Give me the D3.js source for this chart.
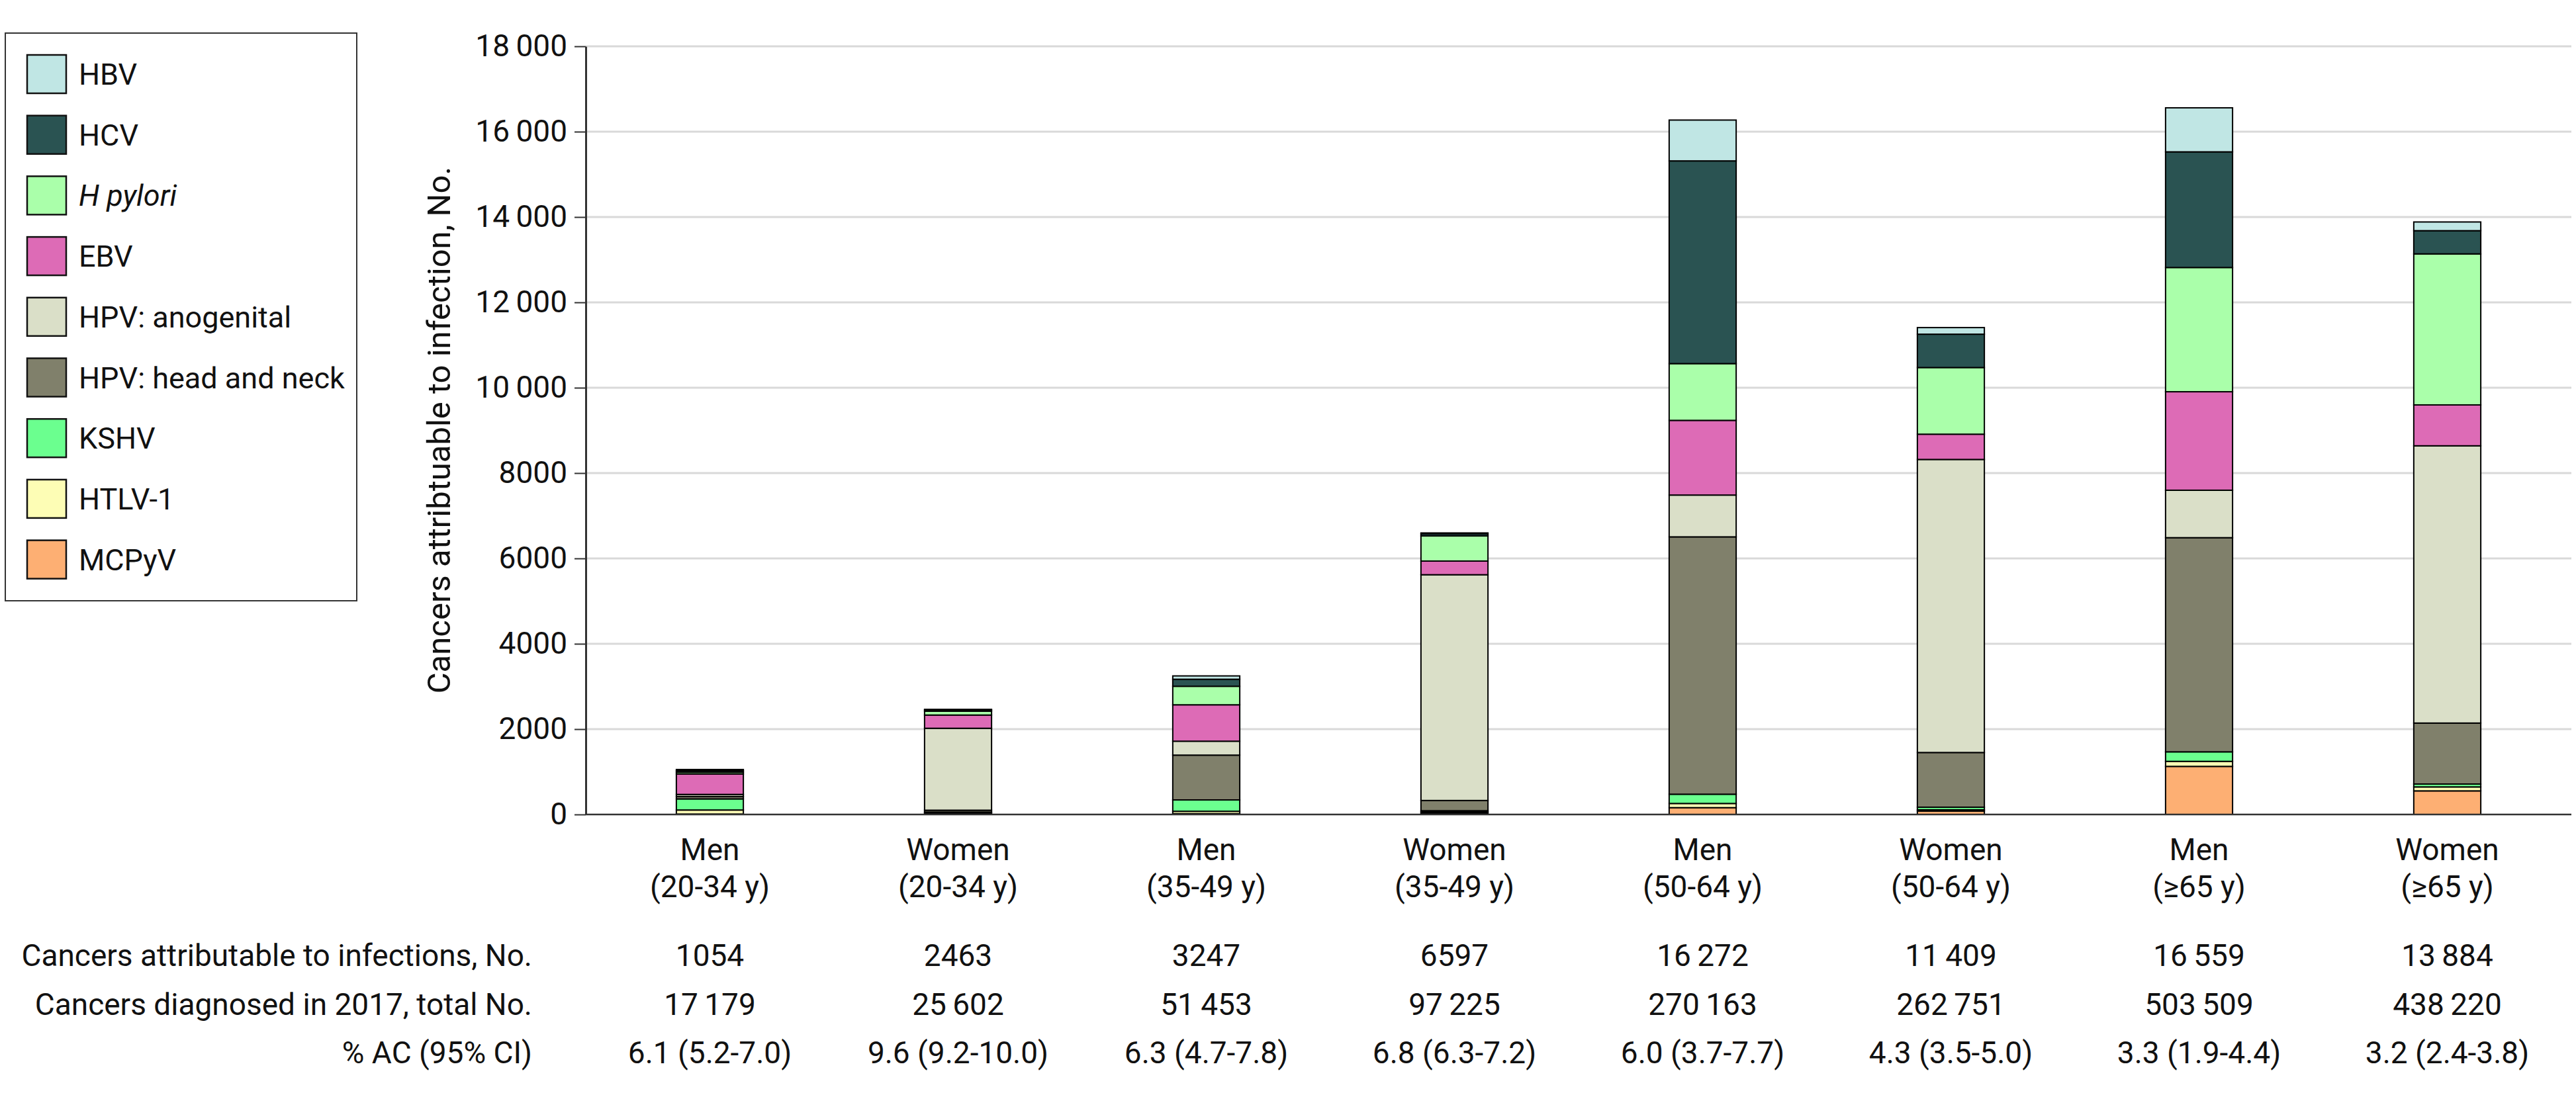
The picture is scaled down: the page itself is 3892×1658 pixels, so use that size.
<!DOCTYPE html>
<html><head><meta charset="utf-8">
<script src="https://cdn.jsdelivr.net/npm/d3@7/dist/d3.min.js"></script>
<style>
body{margin:0;background:#fff;}
text{font-family:Roboto, "Noto Sans", sans-serif; fill:#111;}
</style>
</head><body>
<svg id="chart" width="3892" height="1658"></svg>
<script>
// ---------- data ----------
const groupSex = ["Men","Women","Men","Women","Men","Women","Men","Women"];
const groupAge = ["(20-34 y)","(20-34 y)","(35-49 y)","(35-49 y)","(50-64 y)","(50-64 y)","(\u226565 y)","(\u226565 y)"];

const seriesNames = ["HBV","HCV","H pylori","EBV","HPV: anogenital","HPV: head and neck","KSHV","HTLV-1","MCPyV"];
const seriesColors = ["#c0e6e4","#2a5352","#aaffaa","#dd6bb6","#dadfc8","#80806b","#6bff8f","#fdfdb5","#fdaf73"];

const hbv            = [29, 13, 78, 20, 957, 155, 1032, 204];
const hcv            = [35, 30, 165, 49, 4750, 781, 2710, 544];
const hPylori        = [40, 90, 434, 590, 1330, 1562, 2911, 3539];
const ebv            = [480, 310, 853, 320, 1750, 592, 2308, 958];
const hpvAnogenital  = [50, 1920, 326, 5290, 980, 6867, 1112, 6497];
const hpvHeadNeck    = [55, 45, 1050, 240, 6030, 1282, 5018, 1429];
const kshv           = [260, 15, 266, 28, 217, 60, 223, 67];
const htlv1          = [95, 30, 55, 30, 98, 30, 118, 93];
const mcpyv          = [10, 10, 20, 30, 160, 80, 1127, 553];

const yTicks = [0,2000,4000,6000,8000,10000,12000,14000,16000,18000];

const attributable = [1054, 2463, 3247, 6597, 16272, 11409, 16559, 13884];
const diagnosed    = [17179, 25602, 51453, 97225, 270163, 262751, 503509, 438220];
const pctAC        = ["6.1 (5.2-7.0)","9.6 (9.2-10.0)","6.3 (4.7-7.8)","6.8 (6.3-7.2)","6.0 (3.7-7.7)","4.3 (3.5-5.0)","3.3 (1.9-4.4)","3.2 (2.4-3.8)"];
const rowLabels = ["Cancers attributable to infections, No.","Cancers diagnosed in 2017, total No.","% AC (95% CI)"];

// ---------- build ----------
const seriesValues = [hbv,hcv,hPylori,ebv,hpvAnogenital,hpvHeadNeck,kshv,htlv1,mcpyv];
const table = groupSex.map((s,i)=>{
  const row = {idx:i};
  seriesNames.forEach((n,k)=>row[n]=seriesValues[k][i]);
  return row;
});
const stackKeys = seriesNames.slice().reverse(); // bottom -> top
const stacked = d3.stack().keys(stackKeys)(table);
const color = d3.scaleOrdinal().domain(seriesNames).range(seriesColors);

const fmt = v => v >= 10000 ? String(v).replace(/\B(?=(\d{3})+(?!\d))/g, "\u2009") : String(v);

const svg = d3.select("#chart");
const x = d3.scaleBand().domain(d3.range(8)).range([885, 3885]).paddingInner(0.73).paddingOuter(0.365);
const y = d3.scaleLinear().domain([0, 18000]).range([1231, 70]);

// gridlines
svg.append("g").selectAll("line").data(yTicks.filter(t=>t>0)).join("line")
  .attr("x1", 885).attr("x2", 3885)
  .attr("y1", d=>y(d)).attr("y2", d=>y(d))
  .attr("stroke", "#d9d9d9").attr("stroke-width", 3);

// bars
svg.append("g").selectAll("g").data(stacked).join("g")
  .attr("fill", d=>color(d.key))
  .selectAll("rect").data(d=>d).join("rect")
  .attr("x", (d,i)=>x(i)).attr("width", x.bandwidth())
  .attr("y", d=>y(d[1])).attr("height", d=>y(d[0])-y(d[1]))
  .attr("stroke", "#000").attr("stroke-width", 2);

// y axis
const yAxis = svg.append("g").attr("transform","translate(885,0)")
  .call(d3.axisLeft(y).tickValues(yTicks).tickFormat(fmt).tickSize(17).tickSizeOuter(0).tickPadding(11));
yAxis.select(".domain").attr("stroke","#333").attr("stroke-width",3);
yAxis.selectAll(".tick line").attr("stroke","#333").attr("stroke-width",2);
yAxis.selectAll(".tick text").attr("font-size",46).attr("font-family","Roboto").attr("fill","#111");

// baseline
svg.append("line").attr("x1",885).attr("x2",3885).attr("y1",y(0)).attr("y2",y(0))
  .attr("stroke","#333").attr("stroke-width",2.5);

// y title
svg.append("text").attr("transform","translate(680,650) rotate(-90)")
  .attr("text-anchor","middle").attr("font-size",49)
  .text("Cancers attribtuable to infection, No.");

// category labels
const cat = svg.append("g").attr("font-size",46).attr("text-anchor","middle");
cat.selectAll("text.sex").data(groupSex).join("text").attr("class","sex")
  .attr("x",(d,i)=>x(i)+x.bandwidth()/2).attr("y",1300).text(d=>d);
cat.selectAll("text.age").data(groupAge).join("text").attr("class","age")
  .attr("x",(d,i)=>x(i)+x.bandwidth()/2).attr("y",1356).text(d=>d);

// table rows
const rowsY = [1460, 1534, 1607];
const rowData = [attributable.map(fmt), diagnosed.map(fmt), pctAC];
const tbl = svg.append("g").attr("font-size",46);
tbl.selectAll("text.lab").data(rowLabels).join("text").attr("class","lab")
  .attr("x",804).attr("y",(d,i)=>rowsY[i]).attr("text-anchor","end").text(d=>d);
rowData.forEach((vals,r)=>{
  tbl.append("g").selectAll("text").data(vals).join("text")
    .attr("x",(d,i)=>x(i)+x.bandwidth()/2).attr("y",rowsY[r])
    .attr("text-anchor","middle").text(d=>d);
});

// legend
const lg = svg.append("g");
lg.append("rect").attr("x",8).attr("y",50).attr("width",531).attr("height",858)
  .attr("fill","#fff").attr("stroke","#333").attr("stroke-width",2);
const items = lg.selectAll("g.item").data(seriesNames).join("g").attr("class","item")
  .attr("transform",(d,i)=>`translate(0,${83 + i*91.7})`);
items.append("rect").attr("x",41).attr("y",0).attr("width",59).attr("height",58)
  .attr("fill",d=>color(d)).attr("stroke","#111").attr("stroke-width",2.5);
items.append("text").attr("x",119).attr("y",45).attr("font-size",45)
  .attr("font-style",d=>d==="H pylori"?"italic":"normal").text(d=>d);
</script>
</body></html>
